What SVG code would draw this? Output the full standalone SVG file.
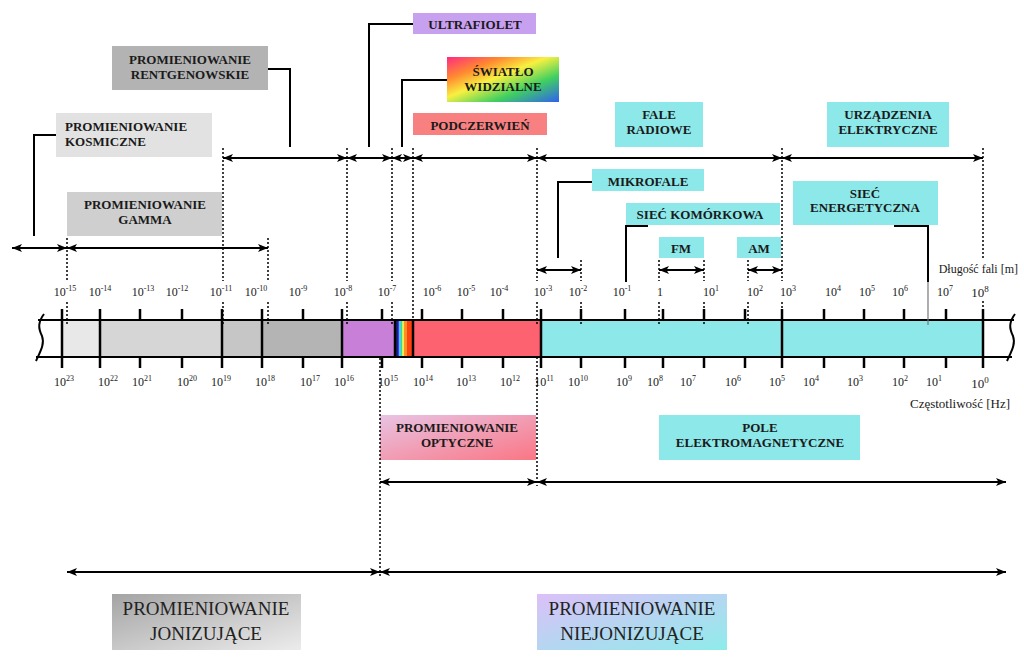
<svg xmlns="http://www.w3.org/2000/svg" width="1024" height="657" viewBox="0 0 1024 657">
<defs>
<style>
.lbl{font-family:"Liberation Serif","Times New Roman",serif;font-weight:bold;font-size:13px;fill:#1a1a1a;text-anchor:middle}
.ax{font-family:"Liberation Serif","Times New Roman",serif;font-size:12px;fill:#1a1a1a;text-anchor:middle}
.big{font-family:"Liberation Serif","Times New Roman",serif;font-size:19px;fill:#222;text-anchor:middle}
.arr{stroke:#000;stroke-width:2;fill:none;marker-start:url(#ah);marker-end:url(#ah)}
.dot{stroke:#000;stroke-width:1.5;stroke-dasharray:2 2;fill:none}
.lead{stroke:#000;stroke-width:2;fill:none}
.tick{stroke:#000;stroke-width:2.5}
.edge{stroke:#000;stroke-width:2;fill:none}
</style>
<marker id="ah" viewBox="0 0 10 8" refX="10" refY="4" markerWidth="10" markerHeight="8" orient="auto-start-reverse" markerUnits="userSpaceOnUse"><path d="M0,0 L10,4 L0,8 L2.5,4 z" fill="#000"/></marker>
<linearGradient id="rainbow" x1="0" y1="0" x2="1" y2="1">
<stop offset="0" stop-color="#ff2a80"/><stop offset="0.25" stop-color="#ff8a30"/><stop offset="0.45" stop-color="#f8f040"/><stop offset="0.7" stop-color="#40d060"/><stop offset="1" stop-color="#3060f0"/>
</linearGradient>
<linearGradient id="gIon" x1="0" y1="0" x2="1" y2="1"><stop offset="0" stop-color="#a4a4a4"/><stop offset="1" stop-color="#ececec"/></linearGradient>
<linearGradient id="gNon" x1="0" y1="0" x2="1" y2="1"><stop offset="0" stop-color="#dcc0f8"/><stop offset="1" stop-color="#8eecea"/></linearGradient>
<linearGradient id="gOpt" x1="0" y1="0" x2="1" y2="1"><stop offset="0" stop-color="#e8c4e4"/><stop offset="1" stop-color="#fa7684"/></linearGradient>
</defs>
<rect width="1024" height="657" fill="#fff"/>

<g id="spectrum-band">
<rect x="62" y="320" width="38" height="37" fill="#e8e8e8"/>
<rect x="100" y="320" width="122" height="37" fill="#d6d6d6"/>
<rect x="222" y="320" width="40" height="37" fill="#c6c6c6"/>
<rect x="262" y="320" width="80" height="37" fill="#b4b4b4"/>
<rect x="342" y="320" width="53" height="37" fill="#c87fd8"/>
<rect x="395" y="320" width="3" height="37" fill="#202080"/>
<rect x="398" y="320" width="1.5" height="37" fill="#3040ff"/>
<rect x="399.5" y="320" width="1.5" height="37" fill="#40d0ff"/>
<rect x="401" y="320" width="1.5" height="37" fill="#40e060"/>
<rect x="402.5" y="320" width="1.5" height="37" fill="#f0f040"/>
<rect x="404" y="320" width="3" height="37" fill="#ff9020"/>
<rect x="407" y="320" width="6" height="37" fill="#ff4010"/>
<rect x="413" y="320" width="128" height="37" fill="#fd6270"/>
<rect x="541" y="320" width="442" height="37" fill="#8de8ea"/>
<line class="edge" x1="38" y1="320" x2="1014" y2="320"/>
<line class="edge" x1="36" y1="357" x2="1012" y2="357"/>
<path class="edge" d="M44,314 C38,322 38,328 42,336 C45,344 40,352 36,361"/>
<path class="edge" d="M1015,314 C1009,322 1009,328 1013,336 C1016,344 1011,352 1007,361"/>
<g class="tick">
<line x1="62" y1="309" x2="62" y2="368"/><line x1="100" y1="309" x2="100" y2="368"/>
<line x1="140" y1="309" x2="140" y2="320"/><line x1="140" y1="357" x2="140" y2="368"/>
<line x1="182" y1="309" x2="182" y2="320"/><line x1="182" y1="357" x2="182" y2="368"/>
<line x1="222" y1="309" x2="222" y2="368"/><line x1="262" y1="309" x2="262" y2="368"/>
<line x1="303" y1="309" x2="303" y2="320"/><line x1="303" y1="357" x2="303" y2="368"/>
<line x1="342" y1="309" x2="342" y2="368"/>
<line x1="382" y1="309" x2="382" y2="320"/><line x1="382" y1="357" x2="382" y2="368"/>
<line x1="395" y1="320" x2="395" y2="357"/><line x1="413" y1="320" x2="413" y2="357"/>
<line x1="422" y1="309" x2="422" y2="320"/><line x1="422" y1="357" x2="422" y2="368"/>
<line x1="462" y1="309" x2="462" y2="320"/><line x1="462" y1="357" x2="462" y2="368"/>
<line x1="503" y1="309" x2="503" y2="320"/><line x1="503" y1="357" x2="503" y2="368"/>
<line x1="541" y1="309" x2="541" y2="368"/>
<line x1="581" y1="309" x2="581" y2="320"/><line x1="581" y1="357" x2="581" y2="368"/>
<line x1="625" y1="309" x2="625" y2="320"/><line x1="625" y1="357" x2="625" y2="368"/>
<line x1="663" y1="309" x2="663" y2="320"/><line x1="663" y1="357" x2="663" y2="368"/>
<line x1="704" y1="309" x2="704" y2="320"/><line x1="704" y1="357" x2="704" y2="368"/>
<line x1="745" y1="309" x2="745" y2="320"/><line x1="745" y1="357" x2="745" y2="368"/>
<line x1="782" y1="309" x2="782" y2="368"/>
<line x1="824" y1="309" x2="824" y2="320"/><line x1="824" y1="357" x2="824" y2="368"/>
<line x1="864" y1="309" x2="864" y2="320"/><line x1="864" y1="357" x2="864" y2="368"/>
<line x1="904" y1="309" x2="904" y2="320"/><line x1="904" y1="357" x2="904" y2="368"/>
<line x1="946" y1="309" x2="946" y2="320"/><line x1="946" y1="357" x2="946" y2="368"/>
<line x1="983" y1="309" x2="983" y2="368"/>
</g>
</g>

<g id="wavelength-labels" class="ax">
<text x="65" y="296">10<tspan dy="-5" font-size="8">-15</tspan></text>
<text x="100" y="296">10<tspan dy="-5" font-size="8">-14</tspan></text>
<text x="143" y="296">10<tspan dy="-5" font-size="8">-13</tspan></text>
<text x="177" y="296">10<tspan dy="-5" font-size="8">-12</tspan></text>
<text x="221" y="296">10<tspan dy="-5" font-size="8">-11</tspan></text>
<text x="256" y="296">10<tspan dy="-5" font-size="8">-10</tspan></text>
<text x="298" y="296">10<tspan dy="-5" font-size="8">-9</tspan></text>
<text x="343" y="296">10<tspan dy="-5" font-size="8">-8</tspan></text>
<text x="387" y="296">10<tspan dy="-5" font-size="8">-7</tspan></text>
<text x="432" y="296">10<tspan dy="-5" font-size="8">-6</tspan></text>
<text x="466" y="296">10<tspan dy="-5" font-size="8">-5</tspan></text>
<text x="499" y="296">10<tspan dy="-5" font-size="8">-4</tspan></text>
<text x="543" y="296">10<tspan dy="-5" font-size="8">-3</tspan></text>
<text x="578" y="296">10<tspan dy="-5" font-size="8">-2</tspan></text>
<text x="622" y="296">10<tspan dy="-5" font-size="8">-1</tspan></text>
<text x="660" y="296">1</text>
<text x="711" y="296">10<tspan dy="-5" font-size="8">1</tspan></text>
<text x="755" y="296">10<tspan dy="-5" font-size="8">2</tspan></text>
<text x="788" y="296">10<tspan dy="-5" font-size="8">3</tspan></text>
<text x="833" y="296">10<tspan dy="-5" font-size="8">4</tspan></text>
<text x="867" y="296">10<tspan dy="-5" font-size="8">5</tspan></text>
<text x="900" y="296">10<tspan dy="-5" font-size="8">6</tspan></text>
<text x="945" y="296">10<tspan dy="-5" font-size="8">7</tspan></text>
<text x="980" y="297" font-size="13">10<tspan dy="-5" font-size="9">8</tspan></text>
<text x="1018" y="273" text-anchor="end">Długość fali [m]</text>
</g>

<g id="frequency-labels" class="ax">
<text x="64" y="386">10<tspan dy="-5" font-size="8">23</tspan></text>
<text x="108" y="386">10<tspan dy="-5" font-size="8">22</tspan></text>
<text x="142" y="386">10<tspan dy="-5" font-size="8">21</tspan></text>
<text x="187" y="386">10<tspan dy="-5" font-size="8">20</tspan></text>
<text x="221" y="386">10<tspan dy="-5" font-size="8">19</tspan></text>
<text x="265" y="386">10<tspan dy="-5" font-size="8">18</tspan></text>
<text x="310" y="386">10<tspan dy="-5" font-size="8">17</tspan></text>
<text x="344" y="386">10<tspan dy="-5" font-size="8">16</tspan></text>
<text x="388" y="386">10<tspan dy="-5" font-size="8">15</tspan></text>
<text x="423" y="386">10<tspan dy="-5" font-size="8">14</tspan></text>
<text x="466" y="386">10<tspan dy="-5" font-size="8">13</tspan></text>
<text x="510" y="386">10<tspan dy="-5" font-size="8">12</tspan></text>
<text x="544" y="386">10<tspan dy="-5" font-size="8">11</tspan></text>
<text x="578" y="386">10<tspan dy="-5" font-size="8">10</tspan></text>
<text x="624" y="386">10<tspan dy="-5" font-size="8">9</tspan></text>
<text x="655" y="386">10<tspan dy="-5" font-size="8">8</tspan></text>
<text x="688" y="386">10<tspan dy="-5" font-size="8">7</tspan></text>
<text x="733" y="386">10<tspan dy="-5" font-size="8">6</tspan></text>
<text x="777" y="386">10<tspan dy="-5" font-size="8">5</tspan></text>
<text x="811" y="386">10<tspan dy="-5" font-size="8">4</tspan></text>
<text x="855" y="386">10<tspan dy="-5" font-size="8">3</tspan></text>
<text x="900" y="386">10<tspan dy="-5" font-size="8">2</tspan></text>
<text x="934" y="386">10<tspan dy="-5" font-size="8">1</tspan></text>
<text x="980" y="388" font-size="13">10<tspan dy="-5" font-size="9">0</tspan></text>
<text x="1010" y="408" text-anchor="end" font-size="13">Częstotliwość [Hz]</text>
</g>

<g id="kosmiczne"><rect x="56" y="113" width="156" height="44" fill="#e2e2e2"/>
<text class="lbl" x="65" y="131" style="text-anchor:start">PROMIENIOWANIE</text>
<text class="lbl" x="65" y="146" style="text-anchor:start">KOSMICZNE</text></g>
<g id="gamma"><rect x="67" y="192" width="155" height="44" fill="#cfcfcf"/>
<text class="lbl" x="145" y="209">PROMIENIOWANIE</text><text class="lbl" x="145" y="224">GAMMA</text></g>
<g id="rentgen"><rect x="112" y="46" width="156" height="44" fill="#b3b3b3"/>
<text class="lbl" x="190" y="64">PROMIENIOWANIE</text><text class="lbl" x="190" y="79">RENTGENOWSKIE</text></g>
<g id="ultrafiolet"><rect x="413" y="13" width="123" height="21" fill="#c8a0f0"/>
<text class="lbl" x="475" y="29">ULTRAFIOLET</text></g>
<g id="swiatlo"><rect x="447" y="57" width="112" height="45" fill="url(#rainbow)"/>
<text class="lbl" x="503" y="76">ŚWIATŁO</text><text class="lbl" x="503" y="91">WIDZIALNE</text></g>
<g id="podczerwien"><rect x="413" y="113" width="134" height="22" fill="#f88080"/>
<text class="lbl" x="480" y="130">PODCZERWIEŃ</text></g>
<g id="fale-radiowe"><rect x="615" y="102" width="88" height="45" fill="#8de8ea"/>
<text class="lbl" x="659" y="119">FALE</text><text class="lbl" x="659" y="134">RADIOWE</text></g>
<g id="urzadzenia"><rect x="827" y="102" width="122" height="45" fill="#8de8ea"/>
<text class="lbl" x="888" y="119">URZĄDZENIA</text><text class="lbl" x="888" y="134">ELEKTRYCZNE</text></g>
<g id="mikrofale"><rect x="592" y="169" width="112" height="22" fill="#8de8ea"/>
<text class="lbl" x="648" y="186">MIKROFALE</text></g>
<g id="siec-komorkowa"><rect x="626" y="203" width="154" height="22" fill="#8de8ea"/>
<text class="lbl" x="700" y="219">SIEĆ KOMÓRKOWA</text></g>
<g id="fm"><rect x="659" y="237" width="45" height="21" fill="#8de8ea"/>
<text class="lbl" x="681" y="253">FM</text></g>
<g id="am"><rect x="737" y="237" width="44" height="21" fill="#8de8ea"/>
<text class="lbl" x="759" y="253">AM</text></g>
<g id="siec-energetyczna"><rect x="793" y="181" width="145" height="44" fill="#8de8ea"/>
<text class="lbl" x="865" y="198">SIEĆ</text><text class="lbl" x="865" y="212">ENERGETYCZNA</text></g>
<g id="optyczne"><rect x="380" y="415" width="156" height="45" fill="url(#gOpt)"/>
<text class="lbl" x="457" y="432">PROMIENIOWANIE</text><text class="lbl" x="457" y="447">OPTYCZNE</text></g>
<g id="pole-em"><rect x="659" y="415" width="201" height="45" fill="#8de8ea"/>
<text class="lbl" x="760" y="432">POLE</text><text class="lbl" x="760" y="447">ELEKTROMAGNETYCZNE</text></g>
<g id="jonizujace"><rect x="112" y="594" width="189" height="56" fill="url(#gIon)"/>
<text class="big" x="206" y="615">PROMIENIOWANIE</text><text class="big" x="206" y="640">JONIZUJĄCE</text></g>
<g id="niejonizujace"><rect x="537" y="594" width="190" height="56" fill="url(#gNon)"/>
<text class="big" x="632" y="615">PROMIENIOWANIE</text><text class="big" x="632" y="640">NIEJONIZUJĄCE</text></g>

<g id="connectors">
<g class="dot">
<path d="M67,238 V281 M67,302 V326"/>
<path d="M223,148 V281 M223,302 V326"/>
<path d="M268,238 V281 M268,302 V326"/>
<path d="M347,148 V281 M347,302 V326"/>
<path d="M392,148 V281 M392,302 V326"/>
<path d="M413,148 V318"/>
<path d="M537,148 V281 M537,302 V326"/>
<path d="M581,260 V281 M581,302 V326"/>
<path d="M659,260 V281 M659,302 V326"/>
<path d="M704,260 V281 M704,302 V326"/>
<path d="M748,260 V281 M748,302 V326"/>
<path d="M782,148 V281 M782,302 V326"/>
<path d="M983,148 V258 M983,301 V326"/>
<path d="M380,358 V576"/>
<path d="M537,357 V486"/>
</g>
<line class="arr" x1="223" y1="158" x2="347" y2="158"/>
<line class="arr" x1="347" y1="158" x2="392" y2="158"/>
<line class="arr" x1="392" y1="158" x2="413" y2="158"/>
<line class="arr" x1="413" y1="158" x2="537" y2="158"/>
<line class="arr" x1="537" y1="158" x2="782" y2="158"/>
<line class="arr" x1="782" y1="158" x2="983" y2="158"/>
<line class="arr" x1="12" y1="248" x2="67" y2="248"/>
<line class="arr" x1="67" y1="248" x2="268" y2="248"/>
<line class="arr" x1="537" y1="270" x2="581" y2="270"/>
<line class="arr" x1="659" y1="270" x2="704" y2="270"/>
<line class="arr" x1="748" y1="270" x2="782" y2="270"/>
<line class="arr" x1="380" y1="482" x2="537" y2="482"/>
<line class="arr" x1="537" y1="482" x2="1006" y2="482"/>
<line class="arr" x1="67" y1="572" x2="380" y2="572"/>
<line class="arr" x1="380" y1="572" x2="1006" y2="572"/>
<path class="lead" d="M56,135 H34 V236"/>
<path class="lead" d="M268,69 H290 V147"/>
<path class="lead" d="M413,24 H369 V147"/>
<path class="lead" d="M447,80 H402 V147"/>
<path class="lead" d="M592,182 H558 V258"/>
<path class="lead" d="M648,226 H626 V282"/>
<path class="lead" d="M894,226 H928 V282"/>
<line x1="928" y1="282" x2="928" y2="325" stroke="#777" stroke-width="1.2"/>
</g>
</svg>
